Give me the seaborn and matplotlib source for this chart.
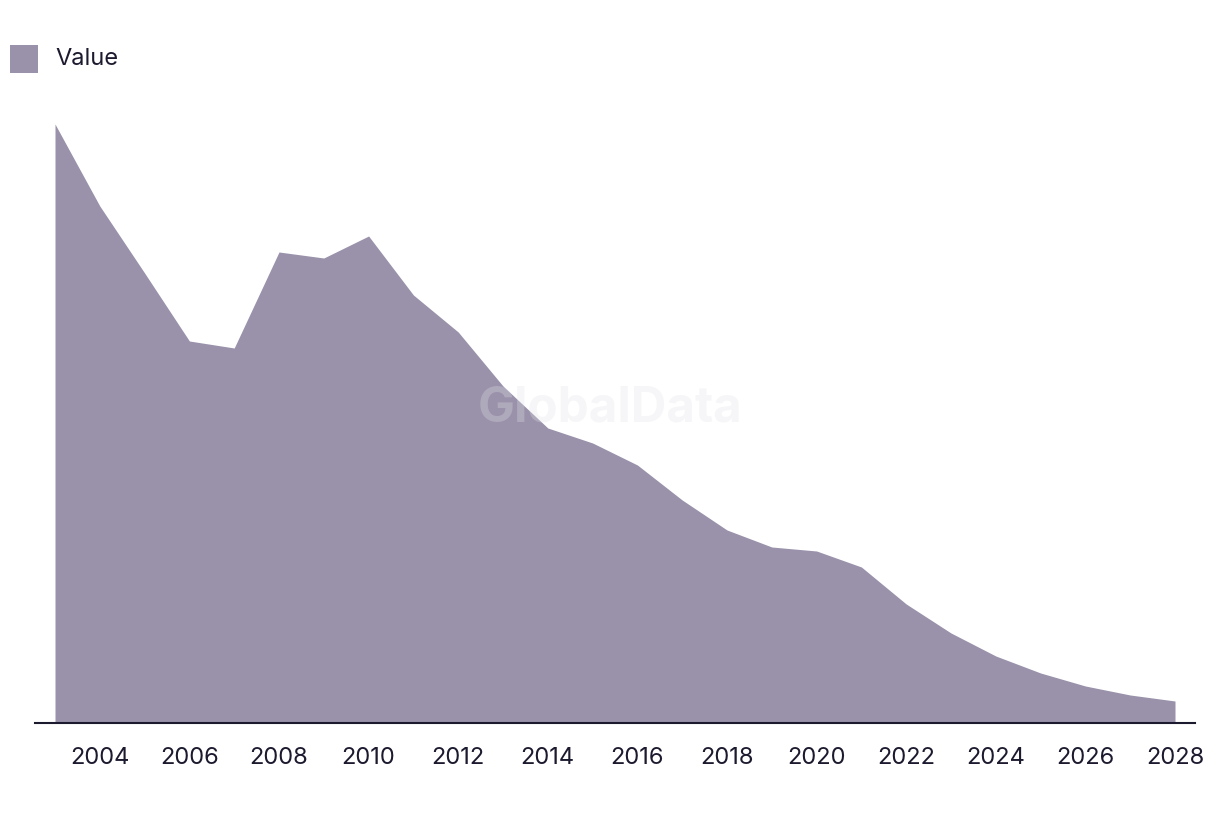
import matplotlib
matplotlib.use("Agg")
import matplotlib.pyplot as plt
import seaborn as sns
import pandas as pd
from matplotlib.patches import Rectangle

years = list(range(2003, 2029))
values = [599, 517, 450, 382, 375, 471, 465, 487, 428, 391, 337, 295, 280,
          258, 223, 193, 176, 172, 156, 119, 90, 67, 50, 37, 28, 22]
tick_years = [2004, 2006, 2008, 2010, 2012, 2014, 2016, 2018, 2020, 2022, 2024, 2026, 2028]
series_name = "Value"

fill_color = "#9a91aa"
text_color = "#1c1a2e"

sns.set_theme(style="white")
plt.rcParams['font.family'] = ['Inter', 'DejaVu Sans']

df = pd.DataFrame({"year": years, "value": values})

fig = plt.figure(figsize=(12.2, 8.14), dpi=100)
ax = fig.add_axes([35/1220, 1 - 723/814, 1160/1220, 623/814])

sns.lineplot(data=df, x="year", y="value", ax=ax, color=fill_color, linewidth=0)
ax.fill_between(df["year"], df["value"], 0, color=fill_color, linewidth=0, zorder=2)

ax.set_xlim(2003 - 20/44.8, 2028 + 20/44.8)
ax.set_ylim(0, 623)
ax.set_xticks(tick_years)
ax.set_xticklabels([str(y) for y in tick_years], fontsize=17, color=text_color)
ax.set_yticks([])
ax.set_xlabel("")
ax.set_ylabel("")
ax.tick_params(axis="x", length=0, pad=17)
for s in ["top", "right", "left"]:
    ax.spines[s].set_visible(False)
ax.spines["bottom"].set_color(text_color)
ax.spines["bottom"].set_linewidth(1.5)
ax.spines["bottom"].set_zorder(5)

# watermark
ax.text(610/1220, 1 - 408/814, "GlobalData", transform=fig.transFigure, ha="center", va="center",
        fontsize=35.5, fontweight="bold", color="#e2e2e8", alpha=0.3, zorder=6)

# legend
fig.patches.append(Rectangle((10/1220, 1 - 73/814), 28/1220, 28/814,
                             transform=fig.transFigure, facecolor=fill_color,
                             edgecolor="none"))
fig.text(55/1220, 1 - 59/814, series_name, ha="left", va="center",
         fontsize=17, color=text_color)

fig.savefig("out.png", dpi=100)
